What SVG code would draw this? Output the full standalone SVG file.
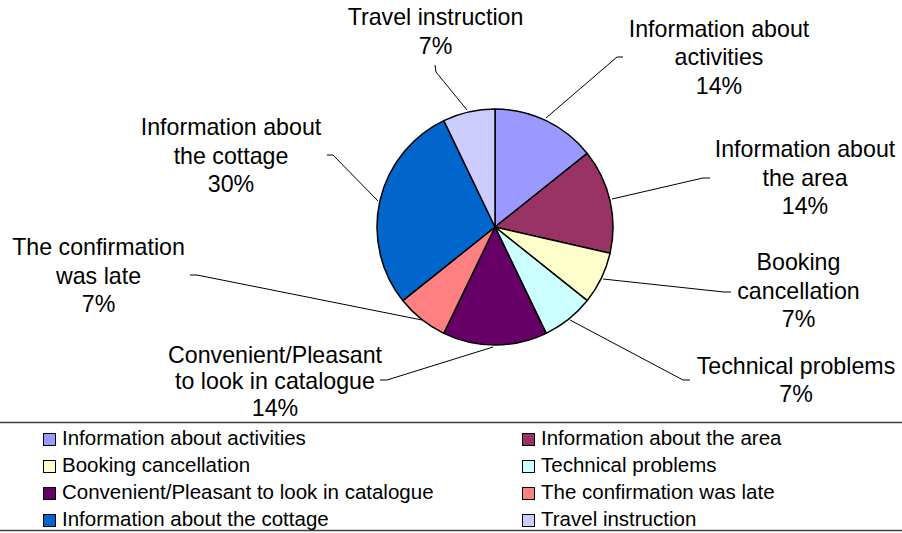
<svg xmlns="http://www.w3.org/2000/svg" width="902" height="533" viewBox="0 0 902 533">
<style>
text{font-family:"Liberation Sans",Arial,sans-serif;fill:#000}
.lbl{font-size:23.2px;text-anchor:middle}
.leg{font-size:20.5px}
.slice{stroke:#000;stroke-width:1.5;stroke-linejoin:round}
.lead{fill:none;stroke:#000;stroke-width:1}
.sw{stroke:#000;stroke-width:1}
</style>
<rect width="902" height="533" fill="#fff"/>
<g id="pie">
<path id="s-activities" class="slice" fill="#9999FF" d="M495,227 L495,109 A118,118 0 0,1 587.25,153.43 Z"/>
<path id="s-area" class="slice" fill="#993366" d="M495,227 L587.25,153.43 A118,118 0 0,1 610.04,253.26 Z"/>
<path id="s-booking" class="slice" fill="#FFFFCC" d="M495,227 L610.04,253.26 A118,118 0 0,1 587.25,300.57 Z"/>
<path id="s-technical" class="slice" fill="#CCFFFF" d="M495,227 L587.25,300.57 A118,118 0 0,1 546.2,333.32 Z"/>
<path id="s-convenient" class="slice" fill="#660066" d="M495,227 L546.2,333.32 A118,118 0 0,1 443.8,333.32 Z"/>
<path id="s-late" class="slice" fill="#FF8080" d="M495,227 L443.8,333.32 A118,118 0 0,1 402.75,300.57 Z"/>
<path id="s-cottage" class="slice" fill="#0066CC" d="M495,227 L402.75,300.57 A118,118 0 0,1 443.8,120.68 Z"/>
<path id="s-travel" class="slice" fill="#CCCCFF" d="M495,227 L443.8,120.68 A118,118 0 0,1 495,109 Z"/>
</g>
<g id="connectors">
<polyline class="lead" points="435,65 436,72 467,110"/>
<polyline class="lead" points="623,57 617,57 546,118"/>
<polyline class="lead" points="710,178 703,178 612,199"/>
<polyline class="lead" points="603,279 724,292 731,292"/>
<polyline class="lead" points="570,320 683,380 690,380"/>
<polyline class="lead" points="380,380 387,380 493,347"/>
<polyline class="lead" points="190,275 197,275 422,320"/>
<polyline class="lead" points="327,155 333,155 378,201"/>
</g>
<g id="label-travel"><text class="lbl" x="435.5" y="25">Travel instruction</text><text class="lbl" x="435.5" y="54">7%</text></g>
<g id="label-activities"><text class="lbl" x="719" y="36.5">Information about</text><text class="lbl" x="719" y="65">activities</text><text class="lbl" x="719" y="93.5">14%</text></g>
<g id="label-area"><text class="lbl" x="805" y="157">Information about</text><text class="lbl" x="805" y="185.5">the area</text><text class="lbl" x="805" y="214">14%</text></g>
<g id="label-booking"><text class="lbl" x="798.5" y="270">Booking</text><text class="lbl" x="798.5" y="298.5">cancellation</text><text class="lbl" x="798.5" y="327">7%</text></g>
<g id="label-technical"><text class="lbl" x="796" y="373.5">Technical problems</text><text class="lbl" x="796" y="402">7%</text></g>
<g id="label-convenient"><text class="lbl" x="275" y="362.5">Convenient/Pleasant</text><text class="lbl" x="275" y="389">to look in catalogue</text><text class="lbl" x="275" y="415.5">14%</text></g>
<g id="label-late"><text class="lbl" x="98.5" y="255">The confirmation</text><text class="lbl" x="98.5" y="283.5">was late</text><text class="lbl" x="98.5" y="312">7%</text></g>
<g id="label-cottage"><text class="lbl" x="231" y="135">Information about</text><text class="lbl" x="231" y="163.5">the cottage</text><text class="lbl" x="231" y="192">30%</text></g>
<g id="legend">
<line x1="0" y1="422.5" x2="902" y2="422.5" stroke="#404040" stroke-width="1.5"/>
<line x1="0" y1="530.5" x2="902" y2="530.5" stroke="#404040" stroke-width="1.5"/>
<rect class="sw" x="43.5" y="433.5" width="12" height="12" fill="#9999FF"/><text class="leg" x="62" y="444.5">Information about activities</text>
<rect class="sw" x="522.5" y="433.5" width="12" height="12" fill="#993366"/><text class="leg" x="541" y="444.5">Information about the area</text>
<rect class="sw" x="43.5" y="460.5" width="12" height="12" fill="#FFFFCC"/><text class="leg" x="62" y="471.5">Booking cancellation</text>
<rect class="sw" x="522.5" y="460.5" width="12" height="12" fill="#CCFFFF"/><text class="leg" x="541" y="471.5">Technical problems</text>
<rect class="sw" x="43.5" y="487.5" width="12" height="12" fill="#660066"/><text class="leg" x="62" y="498.5">Convenient/Pleasant to look in catalogue</text>
<rect class="sw" x="522.5" y="487.5" width="12" height="12" fill="#FF8080"/><text class="leg" x="541" y="498.5">The confirmation was late</text>
<rect class="sw" x="43.5" y="514.5" width="12" height="12" fill="#0066CC"/><text class="leg" x="62" y="525.5">Information about the cottage</text>
<rect class="sw" x="522.5" y="514.5" width="12" height="12" fill="#CCCCFF"/><text class="leg" x="541" y="525.5">Travel instruction</text>
</g>
</svg>
